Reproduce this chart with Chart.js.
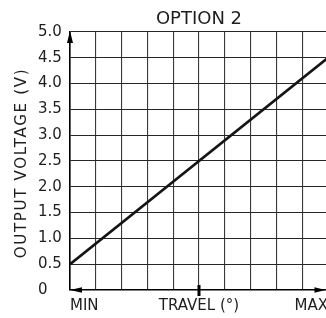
<!DOCTYPE html>
<html>
<head>
<meta charset="utf-8">
<script src="https://cdn.jsdelivr.net/npm/chart.js@4/dist/chart.umd.min.js"></script>
<style>
  html, body { margin: 0; padding: 0; background: #fff; overflow: hidden; width: 326px; height: 318px; }
  canvas { display: block; }
</style>
</head>
<body>
<canvas id="c" width="330" height="318"></canvas>
<script>
// ---- data ----
const travel = [0, 10];            // MIN .. MAX (relative travel units)
const voltage = [0.5, 4.5];        // output voltage (V)
const xTickPositions = [0, 5, 10];
const xTickLabels = ['MIN', 'TRAVEL (°)', 'MAX'];
const yMin = 0, yMax = 5, yStep = 0.5;
const titleText = 'OPTION 2';
const yTitleText = 'OUTPUT VOLTAGE (V)';

const FONT = '"DejaVu Sans", sans-serif';
const TEXT = '#1e1e1e';

const extras = {
  id: 'extras',
  afterDraw(chart) {
    const ctx = chart.ctx;
    const xs = chart.scales.x;
    const L = chart.chartArea.left, T = chart.chartArea.top, B = chart.chartArea.bottom;
    ctx.save();
    ctx.fillStyle = '#000';
    // up arrow on y axis
    ctx.beginPath();
    ctx.moveTo(L, T - 1);
    ctx.lineTo(L - 3, T + 11);
    ctx.lineTo(L + 3, T + 11);
    ctx.closePath();
    ctx.fill();
    // left arrow on x axis
    ctx.beginPath();
    ctx.moveTo(L, B);
    ctx.lineTo(L + 12, B - 2.8);
    ctx.lineTo(L + 12, B + 2.8);
    ctx.closePath();
    ctx.fill();
    // right arrow on x axis
    const R = xs.getPixelForValue(travel[travel.length - 1]) - 2.5;
    ctx.beginPath();
    ctx.moveTo(R, B);
    ctx.lineTo(R - 11, B - 2.8);
    ctx.lineTo(R - 11, B + 2.8);
    ctx.closePath();
    ctx.fill();
    // middle tick mark
    const mx = xs.getPixelForValue(xTickPositions[1]);
    ctx.fillRect(mx - 1.5, B - 5, 3, 11);
    // y axis title
    ctx.translate(22, (T + B) / 2 + 2);
    ctx.rotate(-Math.PI / 2);
    ctx.font = '15px ' + FONT;
    ctx.letterSpacing = '1.7px';
    ctx.fillStyle = TEXT;
    ctx.textAlign = 'center';
    ctx.textBaseline = 'middle';
    ctx.fillText(yTitleText, 0, 0);
    ctx.restore();
  }
};

const chart = new Chart(document.getElementById('c'), {
  type: 'line',
  data: {
    datasets: [{
      data: travel.map((t, i) => ({ x: t, y: voltage[i] })),
      borderColor: '#151515',
      borderWidth: 2.8,
      pointRadius: 0,
      tension: 0,
      fill: false
    }]
  },
  options: {
    responsive: false,
    animation: false,
    events: [],
    layout: { padding: { left: 38, right: 2, top: 0, bottom: 0 } },
    plugins: {
      legend: { display: false },
      tooltip: { enabled: false },
      title: {
        display: true,
        text: titleText,
        fullSize: false,
        color: TEXT,
        font: { family: FONT, size: 18, weight: 'normal', lineHeight: 1.2 },
        padding: { top: 8.5, bottom: 1.9 }
      }
    },
    scales: {
      x: {
        type: 'linear',
        min: travel[0],
        max: travel[travel.length - 1],
        afterFit(s) { s.height = 28; s.paddingRight = 0; s.paddingLeft = 0; },
        grid: { color: '#3a3a3a', lineWidth: 1.1, drawTicks: false },
        border: { display: true, color: '#000', width: 1.6 },
        ticks: {
          stepSize: 1,
          align: 'inner',
          maxRotation: 0,
          autoSkip: false,
          padding: 7,
          color: TEXT,
          font: { family: FONT, size: 15 },
          callback(v) {
            const i = xTickPositions.indexOf(v);
            return i >= 0 ? xTickLabels[i] : '';
          }
        }
      },
      y: {
        type: 'linear',
        min: yMin,
        max: yMax,
        afterFit(s) { s.width = 32; },
        grid: { color: '#262626', lineWidth: 1.1, drawTicks: false },
        border: { display: true, color: '#000', width: 1.6 },
        ticks: {
          stepSize: yStep,
          crossAlign: 'far',
          padding: 0,
          color: TEXT,
          font: { family: FONT, size: 15 },
          callback(v) { return v === 0 ? '0' : v.toFixed(1); }
        }
      }
    }
  },
  plugins: [extras]
});
</script>
</body>
</html>
